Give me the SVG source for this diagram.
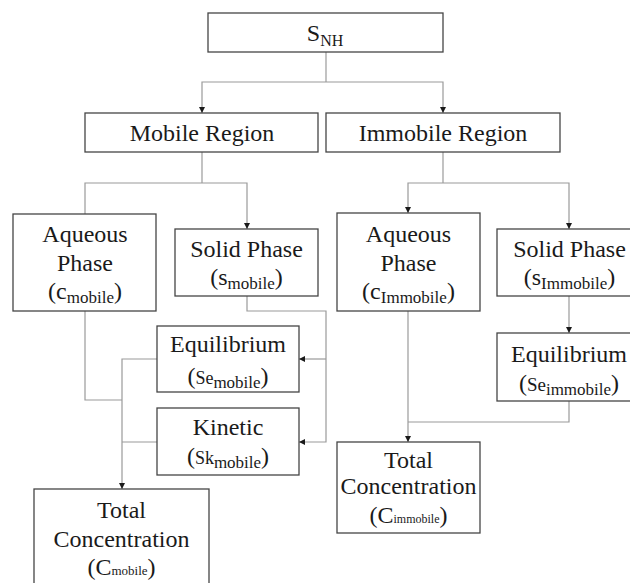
<svg xmlns="http://www.w3.org/2000/svg" width="630" height="583" viewBox="0 0 630 583">
  <style>
    .box { fill: #ffffff; stroke: #454545; stroke-width: 1.3; }
    .lbl { font-size: 24px; fill: #1a1a1a; text-anchor: middle; }
    .sub { font-size: 17px; }
    .wire { fill: none; stroke: #9a9a9a; stroke-width: 1.2; }
    .arrow { marker-end: url(#head); }
  </style>
  <defs>
    <marker id="head" viewBox="0 0 10 10" refX="10" refY="5" markerWidth="6" markerHeight="6" markerUnits="userSpaceOnUse" orient="auto">
      <path d="M0,0 L10,5 L0,10 z" fill="#1a1a1a"/>
    </marker>
  </defs>

  <rect width="630" height="583" fill="#ffffff"/>

  <!-- connectors -->
  <g id="connectors">
    <!-- S_NH to the two regions -->
    <path class="wire" d="M326 52 V82"/>
    <path class="wire arrow" d="M326 82 H202 V113"/>
    <path class="wire arrow" d="M326 82 H443 V113"/>
    <!-- mobile region split -->
    <path class="wire" d="M202 152 V183"/>
    <path class="wire" d="M202 183 H85 V214"/>
    <path class="wire arrow" d="M202 183 H247 V229"/>
    <!-- immobile region split -->
    <path class="wire" d="M443 152 V183"/>
    <path class="wire arrow" d="M443 183 H408 V213"/>
    <path class="wire arrow" d="M443 183 H569 V229"/>
    <!-- mobile solid phase to equilibrium / kinetic -->
    <path class="wire arrow" d="M247 296 V311 H326 V442 H299"/>
    <path class="wire arrow" d="M326 359 H299"/>
    <!-- mobile total concentration -->
    <path class="wire" d="M85 311 V400 H122"/>
    <path class="wire arrow" d="M157 359 H122 V489"/>
    <path class="wire" d="M157 442 H122"/>
    <!-- immobile side -->
    <path class="wire arrow" d="M569 296 V333"/>
    <path class="wire arrow" d="M408 311 V442"/>
    <path class="wire" d="M569 401 V422 H408"/>
  </g>

  <g font-family="'Liberation Serif', 'DejaVu Serif', serif">
  <g id="snh">
    <rect class="box" x="208" y="13" width="235" height="39"/>
    <text class="lbl" x="325" y="41">S<tspan font-size="16" dy="5">NH</tspan></text>
  </g>

  <g id="mobile-region">
    <rect class="box" x="85" y="113" width="233" height="39"/>
    <text class="lbl" x="202" y="141">Mobile Region</text>
  </g>

  <g id="immobile-region">
    <rect class="box" x="326" y="113" width="234" height="39"/>
    <text class="lbl" x="443" y="141">Immobile Region</text>
  </g>

  <g id="aqueous-mobile">
    <rect class="box" x="13" y="214" width="143" height="97"/>
    <text class="lbl" x="85" y="242">Aqueous</text>
    <text class="lbl" x="85" y="271">Phase</text>
    <text class="lbl" x="85" y="299">(c<tspan class="sub" dy="4">mobile</tspan><tspan dy="-4">)</tspan></text>
  </g>

  <g id="solid-mobile">
    <rect class="box" x="175" y="229" width="143" height="67"/>
    <text class="lbl" x="246.5" y="257">Solid Phase</text>
    <text class="lbl" x="246.5" y="285">(s<tspan class="sub" dy="4">mobile</tspan><tspan dy="-4">)</tspan></text>
  </g>

  <g id="aqueous-immobile">
    <rect class="box" x="337" y="213" width="143" height="98"/>
    <text class="lbl" x="408.5" y="242">Aqueous</text>
    <text class="lbl" x="408.5" y="271">Phase</text>
    <text class="lbl" x="408.5" y="299">(c<tspan class="sub" font-size="16" dy="4">Immobile</tspan><tspan dy="-4">)</tspan></text>
  </g>

  <g id="solid-immobile">
    <rect class="box" x="497" y="229" width="144" height="67"/>
    <text class="lbl" x="569.5" y="257">Solid Phase</text>
    <text class="lbl" x="569.5" y="285">(s<tspan class="sub" font-size="16" dy="4">Immobile</tspan><tspan dy="-4">)</tspan></text>
  </g>

  <g id="equilibrium-mobile">
    <rect class="box" x="157" y="326" width="142" height="66"/>
    <text class="lbl" x="228" y="352">Equilibrium</text>
    <text class="lbl" x="228" y="384">(<tspan font-size="18">Se</tspan><tspan class="sub" dy="4">mobile</tspan><tspan dy="-4">)</tspan></text>
  </g>

  <g id="kinetic-mobile">
    <rect class="box" x="157" y="408" width="142" height="67"/>
    <text class="lbl" x="228" y="435">Kinetic</text>
    <text class="lbl" x="228" y="464">(<tspan font-size="18">Sk</tspan><tspan class="sub" dy="4">mobile</tspan><tspan dy="-4">)</tspan></text>
  </g>

  <g id="equilibrium-immobile">
    <rect class="box" x="497" y="333" width="144" height="68"/>
    <text class="lbl" x="569" y="362">Equilibrium</text>
    <text class="lbl" x="569" y="391">(<tspan font-size="19">Se</tspan><tspan class="sub" font-size="16" dy="4">immobile</tspan><tspan dy="-4">)</tspan></text>
  </g>

  <g id="total-mobile">
    <rect class="box" x="34" y="489" width="175" height="100"/>
    <text class="lbl" x="121.5" y="518">Total</text>
    <text class="lbl" x="121.5" y="547">Concentration</text>
    <text class="lbl" x="121.5" y="575">(C<tspan font-size="13">mobile</tspan>)</text>
  </g>

  <g id="total-immobile">
    <rect class="box" x="337" y="442" width="143" height="91"/>
    <text class="lbl" x="408.5" y="468" font-size="22">Total</text>
    <text class="lbl" x="408.5" y="494" font-size="22">Concentration</text>
    <text class="lbl" x="408.5" y="523" font-size="22">(C<tspan font-size="12">immobile</tspan>)</text>
  </g>
  </g>
</svg>
